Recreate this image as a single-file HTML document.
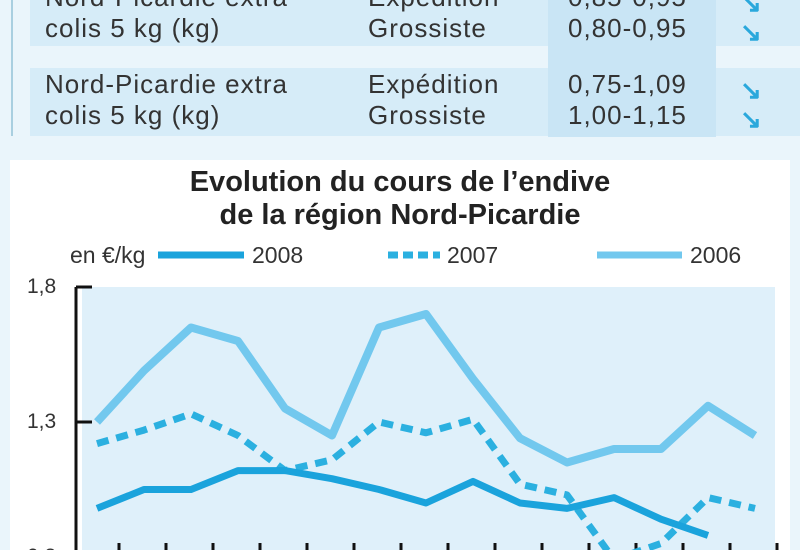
<!DOCTYPE html>
<html><head><meta charset="utf-8"><style>
body{margin:0;width:800px;height:550px;overflow:hidden;background:#eaf5fb;font-family:"Liberation Sans",sans-serif;position:relative}
.a{position:absolute}
.t{font-size:26px;color:#333;line-height:31px;letter-spacing:1px}
.ar{position:absolute;left:740px;color:#2aa8dc;font-size:26px;font-weight:bold;line-height:26px}
</style></head><body>
<div class="a" style="left:11px;top:0;width:2px;height:136px;background:#a9cfe0"></div>
<div class="a" style="left:30px;top:0;width:770px;height:46px;background:#d6ecf8"></div>
<div class="a" style="left:30px;top:68px;width:770px;height:68px;background:#d6ecf8"></div>
<div class="a" style="left:548px;top:0;width:168px;height:137px;background:#c9e5f5"></div>
<div class="a t" style="left:45px;top:-18px">Nord-Picardie extra<br>colis 5 kg (kg)</div>
<div class="a t" style="left:368px;top:-18px">Expédition<br>Grossiste</div>
<div class="a t" style="left:568px;top:-18px">0,85-0,95<br>0,80-0,95</div>
<div class="a t" style="left:45px;top:69px">Nord-Picardie extra<br>colis 5 kg (kg)</div>
<div class="a t" style="left:368px;top:69px">Expédition<br>Grossiste</div>
<div class="a t" style="left:568px;top:69px">0,75-1,09<br>1,00-1,15</div>
<div class="ar" style="top:-10px">↘</div>
<div class="ar" style="top:19px">↘</div>
<div class="ar" style="top:77px">↘</div>
<div class="ar" style="top:106px">↘</div>
<div class="a" style="left:10px;top:160px;width:780px;height:390px;background:#fff"></div>
<div class="a" style="left:0;top:166px;width:800px;text-align:center;font-size:29px;font-weight:bold;color:#222;line-height:33px">Evolution du cours de l’endive<br>de la région Nord-Picardie</div>
<svg class="a" style="left:0;top:0" width="800" height="550">
<rect x="82" y="287" width="693" height="263" fill="#dff0fa"/>
<g id="leg" font-size="23" fill="#333" font-family="Liberation Sans,sans-serif">
<text x="70" y="263">en €/kg</text>
<line x1="158" y1="255" x2="244" y2="255" stroke="#1aa3dc" stroke-width="7"/>
<text x="252" y="263">2008</text>
<line x1="388" y1="255" x2="440" y2="255" stroke="#2bb0e0" stroke-width="7" stroke-dasharray="10,5"/>
<text x="447" y="263">2007</text>
<line x1="597" y1="255" x2="682" y2="255" stroke="#72c8ee" stroke-width="7"/>
<text x="690" y="263">2006</text>
</g>
<g id="axes"></g><g id="series"></g>
</svg>
<script>
const yTicks=[1.8,1.3,0.8];
const tickLabels=["1,8","1,3","0,8"];
const s2006=[1.30,1.49,1.65,1.60,1.35,1.25,1.65,1.70,1.46,1.24,1.15,1.20,1.20,1.36,1.25];
const s2007=[1.22,1.27,1.33,1.25,1.12,1.16,1.30,1.26,1.31,1.07,1.03,0.79,0.85,1.02,0.98];
const s2008=[0.98,1.05,1.05,1.12,1.12,1.09,1.05,1.00,1.08,1.00,0.98,1.02,0.94,0.88];
const NS='http://www.w3.org/2000/svg';
const X=i=>97+i*47.0, Y=v=>287+(1.8-v)*270;
const ax=document.getElementById('axes'), sg=document.getElementById('series');
function mk(t,a,p){const e=document.createElementNS(NS,t);for(const k in a)e.setAttribute(k,a[k]);p.appendChild(e);return e;}
const axis=mk('line',{x1:76,y1:287,x2:76,y2:550,stroke:'#111','stroke-width':3},ax);


yTicks.forEach((v,i)=>{
 const tk=mk('line',{x1:76,y1:Y(v),x2:92,y2:Y(v),stroke:'#111','stroke-width':3},ax);
 
 
 const t=mk('text',{x:27,y:Y(v)+6,'font-size':21,fill:'#333','font-family':'Liberation Sans,sans-serif'},ax);
 t.textContent=tickLabels[i];
 
 
});
for(let i=0;i<15;i++){
 const tk=mk('line',{x1:X(i)+22,y1:543,x2:X(i)+22,y2:550,stroke:'#111','stroke-width':3},ax);
 
 
}
function line(d,col,w,dash,name){
 const p=mk('polyline',{points:d.map((v,i)=>X(i)+','+Y(v)).join(' '),fill:'none',stroke:col,'stroke-width':w,'stroke-linejoin':'round','stroke-dasharray':dash||'none'},sg);
 
 
}
line(s2006,'#72c8ee',8,null,'line-2006');
line(s2007,'#2bb0e0',7,'12,8','line-2007');
line(s2008,'#1aa3dc',7,null,'line-2008');
</script>
</body></html>
